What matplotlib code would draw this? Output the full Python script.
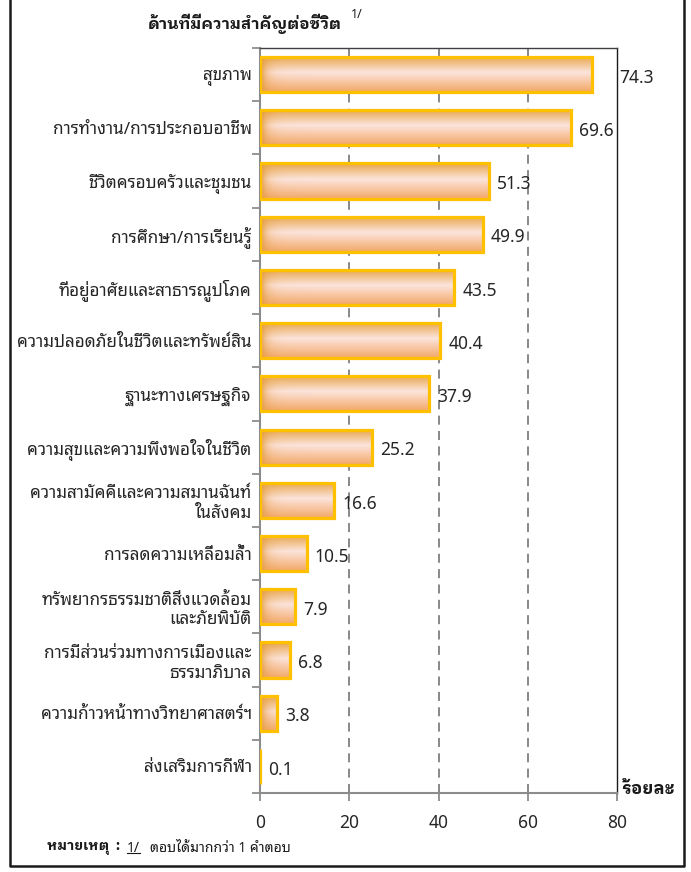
import numpy as np
import matplotlib
matplotlib.use("Agg")
import matplotlib.pyplot as plt
from matplotlib.colors import to_rgb
from matplotlib.lines import Line2D

THAI = ["Noto Sans Thai Looped", "DejaVu Sans"]
THAI_BOLD = ["IBM Plex Sans Thai Looped", "DejaVu Sans"]
plt.rcParams["font.family"] = THAI

categories = [
    "สุขภาพ",
    "การทำงาน/การประกอบอาชีพ",
    "ชีวิตครอบครัวและชุมชน",
    "การศึกษา/การเรียนรู้",
    "ที่อยู่อาศัยและสาธารณูปโภค",
    "ความปลอดภัยในชีวิตและทรัพย์สิน",
    "ฐานะทางเศรษฐกิจ",
    "ความสุขและความพึงพอใจในชีวิต",
    "ความสามัคคีและความสมานฉันท์\nในสังคม",
    "การลดความเหลื่อมล้ำ",
    "ทรัพยากรธรรมชาติสิ่งแวดล้อม\nและภัยพิบัติ",
    "การมีส่วนร่วมทางการเมืองและ\nธรรมาภิบาล",
    "ความก้าวหน้าทางวิทยาศาสตร์ฯ",
    "ส่งเสริมการกีฬา",
]
values = [74.3, 69.6, 51.3, 49.9, 43.5, 40.4, 37.9, 25.2, 16.6, 10.5, 7.9, 6.8, 3.8, 0.1]
xticks = [0, 20, 40, 60, 80]

title = "ด้านที่มีความสำคัญต่อชีวิต"
unit = "ร้อยละ"

fig = plt.figure(figsize=(6.91, 8.72), dpi=100)
ax = fig.add_axes([260 / 691, 1 - 793 / 872, 357 / 691, 745 / 872])

n = len(values)
pos = np.arange(n)
h = 0.66
bars = ax.barh(pos, values, height=h, color="none", edgecolor="#FFC000",
               linewidth=2.3, zorder=3)

# vertical gradient (orange - pinkish white - orange) + darker left end
top_c = np.array(to_rgb("#E8A54A"))
mid_c = np.array(to_rgb("#FCE4DC"))
bot_c = np.array(to_rgb("#F3A867"))
left_c = np.array(to_rgb("#E59A3A"))
t = np.linspace(0, 1, 64)[:, None]
prof = np.where(t < 0.45,
                top_c + (mid_c - top_c) * (t / 0.45),
                mid_c + (bot_c - mid_c) * ((t - 0.45) / 0.55))
for b, v in zip(bars, values):
    x0, y0, w = b.get_x(), b.get_y(), b.get_width()
    if w <= 0.3:
        continue
    xs = np.linspace(0, w, 200)
    f = np.exp(-xs / 1.4)[None, :, None]
    img = prof[:, None, :] * (1 - f) + left_c * f
    im = ax.imshow(np.clip(img, 0, 1), extent=(x0, x0 + w, y0 + h, y0),
                   origin="upper", aspect="auto", zorder=2,
                   interpolation="bilinear")
    im.set_clip_path(b)

ax.set_xlim(0, 80)
ax.set_ylim(n - 0.5, -0.5)

# value labels
for i, v in enumerate(values):
    x = v + 1.8
    if x + 6 > 80:
        x = 80.4
    ax.text(x, i + 0.06, "%.1f" % v, va="center", ha="left", fontsize=12.5,
            color="#262626", zorder=4)

# grid
for g in xticks[1:-1]:
    ax.axvline(g, color="#7F7F7F", lw=1.3, ls=(0, (5, 3.5)), zorder=1)

ax.set_xticks(xticks)
ax.set_xticklabels([str(x) for x in xticks], fontsize=12.5, color="#262626")
ax.tick_params(axis="x", direction="out", length=6, width=1.3, color="#8C8C8C", pad=9)
ax.set_yticks(pos)
ax.set_yticklabels(categories, fontsize=12.3, color="#262626", linespacing=1.3)
ax.tick_params(axis="y", length=0, pad=6)
ax.set_yticks(np.arange(n + 1) - 0.5, minor=True)
ax.tick_params(axis="y", which="minor", direction="out", length=6, width=1.3,
               color="#8C8C8C")

for s in ["left", "bottom"]:
    ax.spines[s].set_color("#8C8C8C")
    ax.spines[s].set_linewidth(1.5)
ax.spines["top"].set_color("#404040")
ax.spines["top"].set_linewidth(1.0)
ax.spines["right"].set_color("#1A1A1A")
ax.spines["right"].set_linewidth(1.0)

# title and unit
fig.text(342 / 691, 1 - 24 / 872, title, ha="right", va="center",
         fontsize=11.5, fontweight="bold", family=THAI_BOLD, color="#1A1A1A")
fig.text(351 / 691, 1 - 14 / 872, "1/", ha="left", va="center",
         fontsize=9, style="italic", color="#1A1A1A")
fig.text(621 / 691, 1 - 789 / 872, unit, ha="left", va="center",
         fontsize=12.5, fontweight="bold", family=THAI_BOLD, color="#1A1A1A")

# note
ny = 1 - 848 / 872
t1 = fig.text(47 / 691, ny, "หมายเหตุ  :", ha="left", va="center", fontsize=10,
              fontweight="bold", family=THAI_BOLD, color="#1A1A1A")
t2 = fig.text(127 / 691, ny, "1/", ha="left", va="center", fontsize=10,
              style="italic", color="#1A1A1A")
t3 = fig.text(150 / 691, ny, "ตอบได้มากกว่า 1 คำตอบ", ha="left", va="center",
              fontsize=10, style="italic", color="#1A1A1A")
fig.canvas.draw()
bb = t2.get_window_extent().transformed(fig.transFigure.inverted())
fig.add_artist(Line2D([bb.x0, bb.x1], [bb.y0 + 0.003, bb.y0 + 0.003],
                      transform=fig.transFigure, color="#1A1A1A", lw=0.8))

# outer frame
fx0, fx1, fy0 = 10 / 691, 684 / 691, 1 - 866 / 872
fig.add_artist(Line2D([fx0, fx0, fx1, fx1], [1.0, fy0, fy0, 1.0],
                      transform=fig.transFigure, color="#1A1A1A", lw=1.8))

fig.savefig("out.png", dpi=100)
